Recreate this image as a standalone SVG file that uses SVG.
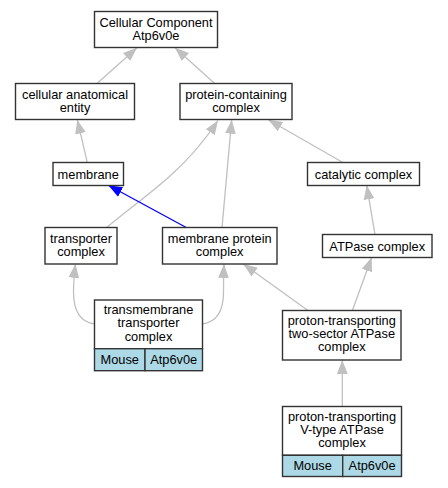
<svg xmlns="http://www.w3.org/2000/svg" width="448" height="488" viewBox="0 0 448 488">
<style>
.box{fill:#ffffff;stroke:#333333;stroke-width:1.4}
.cell{fill:#add8e6;stroke:#333333;stroke-width:1.4}
text{font-family:"Liberation Sans",Arial,sans-serif;font-size:12.8px;fill:#000000;text-anchor:middle}
.e{fill:none;stroke:#c0c0c0;stroke-width:1.3}
.eb{fill:none;stroke:#0000ff;stroke-width:1.3}
</style>
<defs>
<marker id="ag" markerUnits="userSpaceOnUse" markerWidth="14" markerHeight="12" refX="13" refY="5" orient="auto" viewBox="0 0 13 10">
<path d="M0,0 L13,5 L0,10 z" fill="#c0c0c0"/>
</marker>
<marker id="ab" markerUnits="userSpaceOnUse" markerWidth="14" markerHeight="12" refX="13" refY="5" orient="auto" viewBox="0 0 13 10">
<path d="M0,0 L13,5 L0,10 z" fill="#0000ff"/>
</marker>
</defs>
<rect width="448" height="488" fill="#ffffff"/>
<g id="connectors">
<path class="e" marker-end="url(#ag)" d="M96.7,83.7 L137,47.7"/>
<path class="e" marker-end="url(#ag)" d="M215,83.7 L175,47.7"/>
<path class="e" marker-end="url(#ag)" d="M87.3,162.7 L77.3,119.7"/>
<path class="e" marker-end="url(#ag)" d="M343.3,162.7 L268.3,119.7"/>
<path class="e" marker-end="url(#ag)" d="M106.5,227.7 C125,212 150,194 170,176 C188,160 203,143 218,120.5"/>
<path class="e" marker-end="url(#ag)" d="M222,227.7 L231.7,119.7"/>
<path class="eb" marker-end="url(#ab)" d="M186.7,227.7 L108.3,185.3"/>
<path class="e" marker-end="url(#ag)" d="M375,234.7 L366.7,185.3"/>
<path class="e" marker-end="url(#ag)" d="M94.5,324 C80,322 73.5,310 73.5,292 C73.5,282 74.5,272 75.5,264"/>
<path class="e" marker-end="url(#ag)" d="M202.3,324 C217,322 223.5,310 223.5,292 C223.5,282 223.7,272 224,264"/>
<path class="e" marker-end="url(#ag)" d="M308.3,310.7 L243.3,264"/>
<path class="e" marker-end="url(#ag)" d="M352.3,310.7 L371.7,257.3"/>
<path class="e" marker-end="url(#ag)" d="M342.3,406.7 L342.3,360"/>
</g>
<g id="node-cc">
<rect class="box" x="94.5" y="11.5" width="123" height="36"/>
<text x="156" y="27">Cellular Component</text>
<text x="156" y="40.3">Atp6v0e</text>
</g>
<g id="node-cae">
<rect class="box" x="15.5" y="83.5" width="119" height="36"/>
<text x="75" y="98.8">cellular anatomical</text>
<text x="75" y="112">entity</text>
</g>
<g id="node-pcc">
<rect class="box" x="180" y="83.5" width="112" height="36"/>
<text x="236" y="98.8">protein-containing</text>
<text x="236" y="112">complex</text>
</g>
<g id="node-membrane">
<rect class="box" x="53" y="162.5" width="70.5" height="23"/>
<text x="88.2" y="178.5">membrane</text>
</g>
<g id="node-catalytic">
<rect class="box" x="307.5" y="162.5" width="112" height="23"/>
<text x="363.5" y="178.5">catalytic complex</text>
</g>
<g id="node-transporter">
<rect class="box" x="45" y="227.5" width="72" height="36.5"/>
<text x="81" y="242.7">transporter</text>
<text x="81" y="255.8">complex</text>
</g>
<g id="node-mpc">
<rect class="box" x="162.5" y="227.5" width="114.5" height="36.5"/>
<text x="219.7" y="242.7">membrane protein</text>
<text x="219.7" y="255.8">complex</text>
</g>
<g id="node-atpase">
<rect class="box" x="322.5" y="234.5" width="109.5" height="23"/>
<text x="377.2" y="250.5">ATPase complex</text>
</g>
<g id="node-tmtc">
<rect class="box" x="94.5" y="300" width="108" height="48.7"/>
<rect class="cell" x="94.5" y="348.7" width="50.5" height="22"/>
<rect class="cell" x="145" y="348.7" width="57.5" height="22"/>
<text x="148.5" y="313.8">transmembrane</text>
<text x="148.5" y="327.3">transporter</text>
<text x="148.5" y="340.5">complex</text>
<text x="119.8" y="363.5">Mouse</text>
<text x="173.7" y="363.5">Atp6v0e</text>
</g>
<g id="node-twosector">
<rect class="box" x="282.5" y="310.5" width="118.5" height="49.5"/>
<text x="341.8" y="325">proton-transporting</text>
<text x="341.8" y="338.3">two-sector ATPase</text>
<text x="341.8" y="351">complex</text>
</g>
<g id="node-vtype">
<rect class="box" x="282.5" y="406.5" width="119" height="48.8"/>
<rect class="cell" x="282.5" y="455.3" width="60.2" height="21.2"/>
<rect class="cell" x="342.7" y="455.3" width="58.8" height="21.2"/>
<text x="342" y="421">proton-transporting</text>
<text x="342" y="434.3">V-type ATPase</text>
<text x="342" y="447">complex</text>
<text x="312.6" y="469.5">Mouse</text>
<text x="372.1" y="469.5">Atp6v0e</text>
</g>
</svg>
